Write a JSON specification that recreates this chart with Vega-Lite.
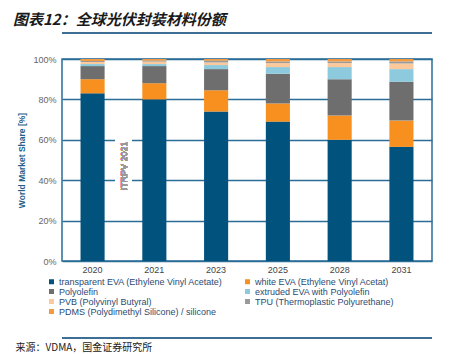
{
  "$schema": "https://vega.github.io/schema/vega-lite/v6.json",
  "width": 370,
  "height": 202,
  "autosize": {"type": "none"},
  "padding": {"left": 62, "top": 59, "right": 25, "bottom": 93},
  "background": "white",
  "title": {
    "text": "图表12：全球光伏封装材料份额",
    "anchor": "start",
    "dx": -2,
    "offset": -11,
    "baseline": "bottom",
    "font": "Noto Sans CJK SC",
    "fontSize": 15,
    "fontWeight": "bold",
    "fontStyle": "italic",
    "color": "#1a1a1a"
  },
  "config": {
    "view": {"stroke": "#2a6e98", "strokeWidth": 1.5},
    "font": "Liberation Sans"
  },
  "data": {
    "values": [
      {"year": "2020", "material": "transparent EVA (Ethylene Vinyl Acetate)", "share": 83},
      {"year": "2020", "material": "white EVA (Ethylene Vinyl Acetat)", "share": 7},
      {"year": "2020", "material": "Polyolefin", "share": 6.5},
      {"year": "2020", "material": "extruded EVA with Polyolefin", "share": 1},
      {"year": "2020", "material": "PVB (Polyvinyl Butyral)", "share": 1},
      {"year": "2020", "material": "TPU (Thermoplastic Polyurethane)", "share": 0.5},
      {"year": "2020", "material": "PDMS (Polydimethyl Silicone) / silicone", "share": 1},
      {"year": "2021", "material": "transparent EVA (Ethylene Vinyl Acetate)", "share": 80},
      {"year": "2021", "material": "white EVA (Ethylene Vinyl Acetat)", "share": 8},
      {"year": "2021", "material": "Polyolefin", "share": 8.5},
      {"year": "2021", "material": "extruded EVA with Polyolefin", "share": 1},
      {"year": "2021", "material": "PVB (Polyvinyl Butyral)", "share": 1.2},
      {"year": "2021", "material": "TPU (Thermoplastic Polyurethane)", "share": 0.5},
      {"year": "2021", "material": "PDMS (Polydimethyl Silicone) / silicone", "share": 0.8},
      {"year": "2023", "material": "transparent EVA (Ethylene Vinyl Acetate)", "share": 74},
      {"year": "2023", "material": "white EVA (Ethylene Vinyl Acetat)", "share": 10.5},
      {"year": "2023", "material": "Polyolefin", "share": 10.5},
      {"year": "2023", "material": "extruded EVA with Polyolefin", "share": 2},
      {"year": "2023", "material": "PVB (Polyvinyl Butyral)", "share": 1.3},
      {"year": "2023", "material": "TPU (Thermoplastic Polyurethane)", "share": 0.9},
      {"year": "2023", "material": "PDMS (Polydimethyl Silicone) / silicone", "share": 0.8},
      {"year": "2025", "material": "transparent EVA (Ethylene Vinyl Acetate)", "share": 69},
      {"year": "2025", "material": "white EVA (Ethylene Vinyl Acetat)", "share": 9},
      {"year": "2025", "material": "Polyolefin", "share": 14.7},
      {"year": "2025", "material": "extruded EVA with Polyolefin", "share": 3.3},
      {"year": "2025", "material": "PVB (Polyvinyl Butyral)", "share": 2},
      {"year": "2025", "material": "TPU (Thermoplastic Polyurethane)", "share": 0.8},
      {"year": "2025", "material": "PDMS (Polydimethyl Silicone) / silicone", "share": 1.2},
      {"year": "2028", "material": "transparent EVA (Ethylene Vinyl Acetate)", "share": 60},
      {"year": "2028", "material": "white EVA (Ethylene Vinyl Acetat)", "share": 12},
      {"year": "2028", "material": "Polyolefin", "share": 18},
      {"year": "2028", "material": "extruded EVA with Polyolefin", "share": 6},
      {"year": "2028", "material": "PVB (Polyvinyl Butyral)", "share": 2},
      {"year": "2028", "material": "TPU (Thermoplastic Polyurethane)", "share": 0.8},
      {"year": "2028", "material": "PDMS (Polydimethyl Silicone) / silicone", "share": 1.2},
      {"year": "2031", "material": "transparent EVA (Ethylene Vinyl Acetate)", "share": 56.5},
      {"year": "2031", "material": "white EVA (Ethylene Vinyl Acetat)", "share": 13},
      {"year": "2031", "material": "Polyolefin", "share": 19.2},
      {"year": "2031", "material": "extruded EVA with Polyolefin", "share": 6.3},
      {"year": "2031", "material": "PVB (Polyvinyl Butyral)", "share": 2.8},
      {"year": "2031", "material": "TPU (Thermoplastic Polyurethane)", "share": 1},
      {"year": "2031", "material": "PDMS (Polydimethyl Silicone) / silicone", "share": 1.2}
    ]
  },
  "layer": [
    {
      "transform": [
        {"calculate": "indexof(['transparent EVA (Ethylene Vinyl Acetate)', 'white EVA (Ethylene Vinyl Acetat)', 'Polyolefin', 'extruded EVA with Polyolefin', 'PVB (Polyvinyl Butyral)', 'TPU (Thermoplastic Polyurethane)', 'PDMS (Polydimethyl Silicone) / silicone'], datum.material)", "as": "rank"}
      ],
      "mark": {"type": "bar"},
      "encoding": {
        "x": {
          "field": "year",
          "type": "nominal",
          "scale": {"paddingInner": 0.61, "paddingOuter": 0.3},
          "axis": {
            "title": "来源：VDMA，国金证券研究所",
            "titleFont": "Noto Sans CJK SC",
            "titleFontSize": 10,
            "titleFontWeight": "normal",
            "titleColor": "#222222",
            "titleAnchor": "start",
            "titleAlign": "left",
            "titleBaseline": "middle",
            "titleX": -47,
            "titleY": 86,
            "labelAngle": 0,
            "labelColor": "#444444",
            "labelFontSize": 9,
            "labelPadding": 4,
            "ticks": false,
            "domain": false
          }
        },
        "y": {
          "field": "share",
          "type": "quantitative",
          "stack": "zero",
          "scale": {"domain": [0, 100], "nice": false},
          "axis": {
            "title": "World Market Share [%]",
            "titleColor": "#1f5f8a",
            "titleFontWeight": "bold",
            "titleFontSize": 8.5,
            "titlePadding": 6,
            "values": [0, 10, 20, 30, 40, 50, 60, 70, 80, 90, 100],
            "labelExpr": "datum.value + '%'",
            "labelColor": "#666666",
            "labelFontSize": 9,
            "labelPadding": 6,
            "ticks": false,
            "domain": false,
            "grid": true,
            "gridColor": "#2a6e98",
            "gridWidth": 1.6,
            "gridOpacity": 1
          }
        },
        "order": {"field": "rank", "type": "quantitative", "sort": "ascending"},
        "color": {
          "field": "material",
          "type": "nominal",
          "scale": {
            "domain": [
              "transparent EVA (Ethylene Vinyl Acetate)",
              "white EVA (Ethylene Vinyl Acetat)",
              "Polyolefin",
              "extruded EVA with Polyolefin",
              "PVB (Polyvinyl Butyral)",
              "TPU (Thermoplastic Polyurethane)",
              "PDMS (Polydimethyl Silicone) / silicone"
            ],
            "range": ["#02527e", "#f7901e", "#6e6e6e", "#8ecade", "#fbc99c", "#9a9a9a", "#f49a40"]
          },
          "legend": {
            "title": null,
            "orient": "none",
            "direction": "horizontal",
            "legendX": -15,
            "legendY": 218,
            "columns": 2,
            "columnPadding": 20,
            "rowPadding": 0,
            "symbolType": "square",
            "symbolSize": 25,
            "symbolStrokeWidth": 0,
            "labelFontSize": 9,
            "labelColor": "#2b4b73",
            "labelLimit": 300,
            "labelOffset": 3
          }
        }
      }
    },
    {
      "mark": {"type": "rect", "color": "white"},
      "encoding": {
        "x": {"datum": "2020", "type": "nominal", "bandPosition": 1.45},
        "x2": {"datum": "2021", "bandPosition": -0.45},
        "y": {"datum": 33, "type": "quantitative"},
        "y2": {"datum": 66}
      }
    },
    {
      "mark": {"type": "text", "angle": 270, "color": "#999999", "fontSize": 9, "align": "center", "baseline": "middle"},
      "encoding": {
        "x": {"datum": "2020", "type": "nominal", "bandPosition": 1.79},
        "y": {"datum": 47, "type": "quantitative"},
        "text": {"value": "ITRPV 2021"}
      }
    },
    {
      "mark": {"type": "rule", "color": "#3d6f95", "strokeWidth": 2},
      "encoding": {"y": {"datum": 112.9, "type": "quantitative"}}
    },
    {
      "mark": {"type": "rule", "color": "#3d6f95", "strokeWidth": 1.5},
      "encoding": {"y": {"datum": -38, "type": "quantitative"}}
    }
  ]
}
